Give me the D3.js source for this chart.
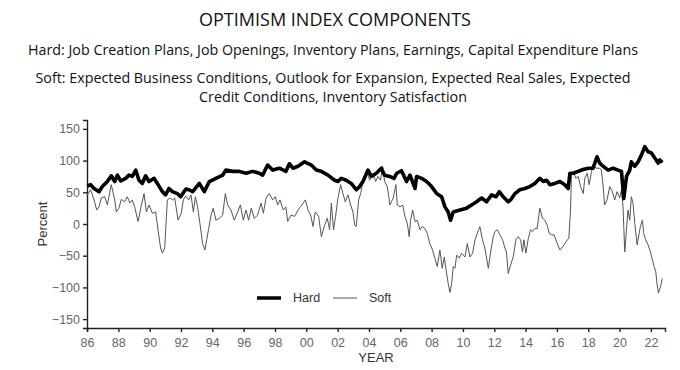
<!DOCTYPE html>
<html lang="en">
<head>
<meta charset="UTF-8">
<script src="https://cdn.jsdelivr.net/npm/d3@7"></script>
<style>
  body { margin: 0; background: #fff; }
  .title { font-family: "Open Sans", sans-serif; fill: #111; }
  .axis text { font-family: "Liberation Sans", Arial, sans-serif; font-size: 12.5px; fill: #666; }
  .axis path, .axis line { stroke: #222; stroke-width: 1.4; }
  .lbl { font-family: "Liberation Sans", Arial, sans-serif; fill: #333; }
</style>
</head>
<body>
<script>
const yearTicks = d3.range(1986, 2023, 2);
const pctTicks = [-150, -100, -50, 0, 50, 100, 150];

const hardT = [1986.02,1986.23,1986.45,1986.77,1986.98,1987.30,1987.55,1987.77,1987.94,1988.15,1988.47,1988.68,1988.89,1989.11,1989.32,1989.53,1989.74,1989.96,1990.28,1990.49,1990.81,1991.02,1991.23,1991.45,1991.77,1991.98,1992.19,1992.32,1992.51,1992.75,1993.17,1993.49,1993.81,1994.23,1994.66,1994.87,1995.30,1995.72,1996.15,1996.58,1997.00,1997.21,1997.53,1997.85,1998.28,1998.70,1998.92,1999.15,1999.47,1999.89,2000.32,2000.64,2000.96,2001.38,2001.81,2002.02,2002.23,2002.55,2002.87,2003.19,2003.40,2003.62,2003.94,2004.15,2004.47,2004.79,2005.00,2005.32,2005.60,2005.77,2006.08,2006.40,2006.62,2006.94,2007.04,2007.36,2007.68,2008.00,2008.32,2008.64,2008.85,2009.06,2009.21,2009.38,2009.81,2010.23,2010.55,2010.87,2011.19,2011.51,2011.83,2012.11,2012.32,2012.57,2012.89,2013.04,2013.32,2013.63,2013.95,2014.27,2014.59,2014.91,2015.13,2015.34,2015.55,2015.87,2016.19,2016.50,2016.72,2016.83,2017.04,2017.36,2017.67,2018.00,2018.31,2018.56,2018.73,2018.95,2019.27,2019.58,2019.90,2020.12,2020.27,2020.44,2020.65,2020.75,2020.97,2021.18,2021.40,2021.61,2021.82,2022.03,2022.25,2022.46,2022.57,2022.73];
const hardV = [60,62,56,51,59,67,76,67,77,68,72,77,75,85,69,64,76,67,72,64,51,46,56,51,48,43,51,55,54,51,64,51,67,72,77,85,83,83,80,83,80,77,93,85,88,83,95,88,91,98,93,85,83,77,69,67,72,69,64,54,59,67,85,75,80,88,77,75,72,80,84,67,77,56,75,72,67,59,48,43,27,19,6,19,22,25,30,35,41,35,46,43,51,43,35,38,48,54,56,59,64,72,67,69,62,64,67,62,56,80,80,83,86,88,88,106,96,91,85,88,85,83,40,75,85,98,91,98,109,122,114,112,104,96,101,97];

const softT = [1986.00,1986.23,1986.45,1986.62,1986.77,1986.91,1987.13,1987.30,1987.55,1987.77,1987.87,1988.04,1988.19,1988.40,1988.57,1988.74,1988.89,1989.04,1989.26,1989.43,1989.64,1989.79,1989.96,1990.17,1990.38,1990.53,1990.70,1990.81,1990.96,1991.13,1991.30,1991.45,1991.60,1991.81,1992.02,1992.15,1992.30,1992.49,1992.64,1992.79,1992.92,1993.06,1993.21,1993.38,1993.53,1993.64,1993.77,1993.92,1994.06,1994.23,1994.45,1994.66,1994.83,1994.98,1995.19,1995.40,1995.62,1995.79,1995.98,1996.15,1996.32,1996.49,1996.68,1996.89,1997.11,1997.26,1997.43,1997.64,1997.85,1998.02,1998.17,1998.32,1998.53,1998.70,1998.81,1999.02,1999.26,1999.47,1999.72,1999.94,2000.11,2000.28,2000.43,2000.57,2000.79,2000.96,2001.17,2001.34,2001.49,2001.60,2001.74,2001.87,2002.02,2002.19,2002.34,2002.49,2002.66,2002.83,2002.98,2003.09,2003.19,2003.34,2003.47,2003.68,2003.89,2004.04,2004.26,2004.43,2004.57,2004.74,2004.87,2005.00,2005.17,2005.34,2005.55,2005.72,2005.81,2005.98,2006.15,2006.30,2006.45,2006.57,2006.66,2006.79,2006.94,2007.08,2007.26,2007.40,2007.57,2007.72,2007.89,2008.06,2008.21,2008.36,2008.53,2008.68,2008.81,2008.96,2009.06,2009.17,2009.28,2009.38,2009.49,2009.60,2009.77,2009.91,2010.13,2010.28,2010.45,2010.62,2010.77,2010.91,2011.08,2011.25,2011.40,2011.62,2011.79,2011.94,2012.04,2012.19,2012.36,2012.53,2012.68,2012.78,2012.89,2013.04,2013.21,2013.38,2013.53,2013.68,2013.80,2013.89,2014.02,2014.17,2014.32,2014.44,2014.59,2014.74,2014.91,2015.08,2015.23,2015.38,2015.51,2015.66,2015.81,2015.98,2016.19,2016.36,2016.51,2016.66,2016.76,2016.87,2016.93,2017.08,2017.21,2017.36,2017.51,2017.68,2017.78,2017.93,2018.06,2018.21,2018.32,2018.49,2018.73,2018.84,2018.95,2019.05,2019.20,2019.37,2019.54,2019.69,2019.84,2020.01,2020.12,2020.22,2020.33,2020.44,2020.54,2020.65,2020.75,2020.86,2020.97,2021.12,2021.25,2021.33,2021.46,2021.54,2021.67,2021.82,2021.97,2022.10,2022.20,2022.31,2022.39,2022.48,2022.61,2022.73];
const softV = [45,54,38,22,27,41,43,30,62,38,19,25,39,35,43,33,38,27,4,25,48,19,30,17,19,-9,-38,-46,-38,38,41,38,41,6,17,38,44,38,46,19,43,27,1,-31,-41,-25,-7,14,25,6,9,14,48,30,22,6,19,30,6,22,6,25,9,14,33,17,41,48,38,43,30,38,22,27,4,14,12,22,30,38,22,14,-4,19,12,-20,-2,9,-9,33,-9,12,41,62,48,35,46,30,19,-2,-4,38,48,75,83,69,80,67,75,69,91,67,59,30,41,62,30,27,30,12,1,-20,6,22,4,6,-9,-4,-7,-15,-31,-41,-54,-67,-41,-70,-52,-78,-94,-108,-94,-67,-70,-49,-54,-46,-52,-31,-52,-46,-25,-15,-4,-25,-38,-70,-41,-20,-12,-9,-17,-25,-38,-44,-78,-65,-52,-25,-20,-25,-44,-25,-46,-23,-9,-12,-7,-7,25,9,6,-2,-15,-17,-17,-28,-41,-36,-31,-25,-23,22,80,80,72,75,59,48,72,80,62,83,93,88,88,85,59,30,38,59,51,38,51,41,54,27,-44,-9,22,6,43,33,1,-33,-15,-4,6,-15,-25,-33,-44,-57,-67,-75,-94,-109,-99,-86];

const titleText = "OPTIMISM INDEX COMPONENTS";
const subLines = [
  "Hard: Job Creation Plans, Job Openings, Inventory Plans, Earnings, Capital Expenditure Plans",
  "Soft: Expected Business Conditions, Outlook for Expansion, Expected Real Sales, Expected",
  "Credit Conditions, Inventory Satisfaction"
];

const w = 680, h = 370;
const svg = d3.select("body").append("svg").attr("width", w).attr("height", h);

// titles
svg.append("text").attr("class", "title")
  .attr("x", 335).attr("y", 26).attr("text-anchor", "middle")
  .attr("font-size", 19).attr("textLength", 272).attr("lengthAdjust", "spacingAndGlyphs")
  .text(titleText);
const subY = [55, 83, 102], subW = [610, 595, 268];
subLines.forEach((s, i) => {
  svg.append("text").attr("class", "title")
    .attr("x", 333).attr("y", subY[i]).attr("text-anchor", "middle")
    .attr("font-size", 13.8).attr("textLength", subW[i]).attr("lengthAdjust", "spacingAndGlyphs")
    .text(s);
});

const x = d3.scaleLinear().domain([1986, 2022.9]).range([87, 665]);
const y = d3.scaleLinear().domain([-164, 164]).range([328, 120]);

svg.append("g").attr("class", "axis")
  .attr("transform", "translate(0,328)")
  .call(d3.axisBottom(x).tickValues(yearTicks).tickSizeOuter(0).tickSize(4).tickPadding(6)
    .tickFormat(d => String(d).slice(2)));
svg.append("g").attr("class", "axis")
  .attr("transform", "translate(87,0)")
  .call(d3.axisLeft(y).tickValues(pctTicks).tickSizeOuter(0).tickSize(4).tickPadding(3));

svg.append("text").attr("class", "lbl").attr("font-size", 13)
  .attr("transform", "translate(47,224) rotate(-90)").attr("text-anchor", "middle")
  .text("Percent");
svg.append("text").attr("class", "lbl").attr("font-size", 13)
  .attr("x", 376).attr("y", 362).attr("text-anchor", "middle")
  .text("YEAR");

const line = d3.line().x(d => x(d[0])).y(d => y(d[1]));
svg.append("path").datum(d3.zip(softT, softV))
  .attr("fill", "none").attr("stroke", "#555").attr("stroke-width", 1)
  .attr("d", line);
svg.append("path").datum(d3.zip(hardT, hardV))
  .attr("fill", "none").attr("stroke", "#000").attr("stroke-width", 3.6)
  .attr("stroke-linejoin", "round")
  .attr("d", line);

// legend
const leg = svg.append("g");
leg.append("line").attr("x1", 257).attr("x2", 281).attr("y1", 298).attr("y2", 298)
  .attr("stroke", "#000").attr("stroke-width", 3.5);
leg.append("text").attr("class", "lbl").attr("font-size", 12.5)
  .attr("x", 293).attr("y", 302).text("Hard");
leg.append("line").attr("x1", 333).attr("x2", 357).attr("y1", 298).attr("y2", 298)
  .attr("stroke", "#555").attr("stroke-width", 1);
leg.append("text").attr("class", "lbl").attr("font-size", 12.5)
  .attr("x", 369).attr("y", 302).text("Soft");
</script>
</body>
</html>
